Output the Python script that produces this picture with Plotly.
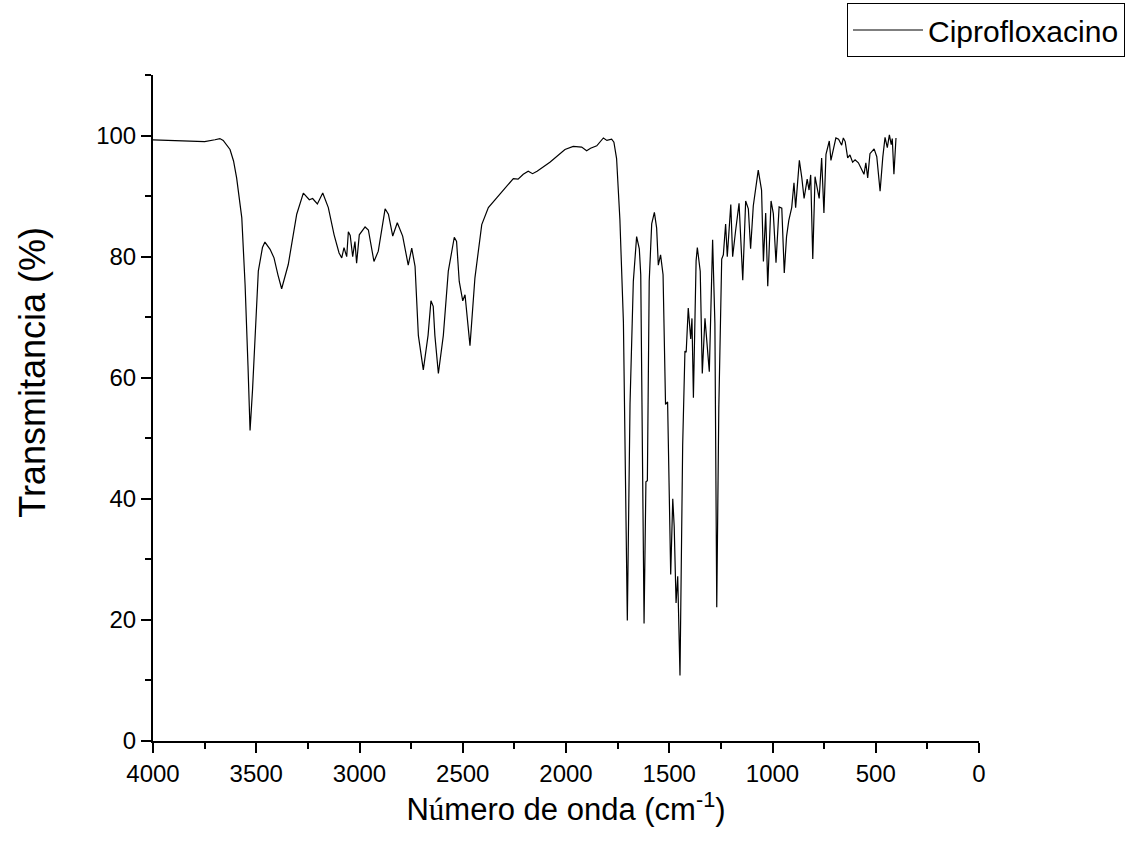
import plotly.graph_objects as go

wavenumber = [
    4000, 3900, 3800, 3750, 3700, 3676, 3660, 3645, 3627, 3610, 3595, 3570, 3554, 3540, 3530, 3518, 3506, 3490,
    3470, 3458, 3433, 3414, 3395, 3377, 3345, 3320, 3304, 3272, 3243, 3227, 3204, 3178,
    3151, 3123, 3099, 3086, 3075, 3062, 3054, 3045, 3033, 3022, 3014, 3001, 2973, 2957, 2930,
    2909, 2876, 2860, 2839, 2817, 2791, 2764, 2747, 2731, 2715, 2691, 2668, 2654,
    2643, 2635, 2618, 2594, 2570, 2541, 2530, 2517, 2500, 2489, 2465, 2441, 2408,
    2376, 2320, 2255, 2232, 2207, 2183, 2162, 2140, 2078, 2005, 1965, 1924, 1900,
    1881, 1851, 1819, 1802, 1779, 1768, 1755, 1739, 1722, 1714, 1703, 1690, 1674,
    1658, 1645, 1638, 1630, 1622, 1613, 1606, 1597, 1585, 1572, 1561, 1553, 1542,
    1530, 1518, 1508, 1493, 1483, 1476, 1467, 1459, 1448, 1435, 1424, 1418, 1408,
    1396, 1390, 1383, 1370, 1364, 1350, 1340, 1327, 1318, 1306, 1290, 1279, 1270,
    1260, 1246, 1238, 1227, 1219, 1202, 1193, 1179, 1162, 1144, 1130, 1117, 1106,
    1093, 1069, 1053, 1044, 1033, 1023, 1007, 996, 983, 968, 955, 943, 932, 921, 907,
    896, 888, 870, 858, 847, 832, 823, 815, 805, 794, 783, 774, 762, 751, 741,
    725, 717, 706, 693, 680, 665, 657, 648, 636, 625, 612, 600, 584, 570, 557, 548, 539, 528,
    508, 495, 479, 466, 455, 444, 434, 425, 420, 412, 402,
]
transmittance = [
    99.3, 99.2, 99.1, 99.0, 99.3, 99.5, 99.2, 98.6, 97.7, 95.8, 93.0, 86.4, 75.3, 62.0, 51.3, 58.0, 67.0, 77.6,
    81.5, 82.4, 81.2, 79.8, 77.0, 74.7, 78.7, 83.5, 87.0, 90.5, 89.4, 89.6, 88.7, 90.5,
    88.1, 83.6, 80.6, 79.8, 81.5, 80.0, 84.1, 83.5, 80.0, 82.5, 78.9, 83.6, 84.9, 84.4, 79.2,
    80.9, 87.9, 87.0, 83.4, 85.6, 83.4, 78.6, 81.4, 78.4, 67.0, 61.3, 67.0, 72.7,
    71.8, 67.0, 60.7, 67.0, 77.6, 83.2, 82.5, 75.9, 72.7, 73.7, 65.3, 76.5, 85.3,
    88.1, 90.3, 92.9, 92.8, 93.6, 94.1, 93.7, 94.1, 95.6, 97.7, 98.2, 98.1, 97.5,
    97.9, 98.3, 99.6, 99.2, 99.4, 98.9, 96.2, 86.1, 69.2, 48.8, 19.9, 55.6, 75.9,
    83.3, 81.3, 77.0, 48.8, 19.4, 42.8, 43.0, 76.0, 85.4, 87.3, 84.7, 78.6, 80.3,
    77.0, 55.6, 56.0, 27.5, 40.0, 35.4, 22.8, 27.2, 10.8, 48.8, 64.4, 64.2, 71.5,
    66.4, 69.8, 56.7, 79.3, 81.5, 77.6, 60.7, 69.8, 66.0, 61.0, 82.8, 69.0, 22.1,
    55.0, 79.6, 80.3, 85.4, 80.0, 88.6, 80.0, 84.2, 88.8, 76.1, 89.2, 87.9, 81.3,
    88.4, 94.3, 91.0, 79.2, 87.2, 75.1, 89.2, 87.1, 79.0, 88.2, 88.0, 77.3, 83.3, 86.0, 88.1,
    92.2, 88.1, 95.9, 93.0, 89.6, 92.8, 91.0, 93.5, 79.6, 93.2, 91.5, 89.6, 96.3, 87.2, 96.9,
    99.1, 95.9, 97.8, 99.6, 99.4, 98.4, 99.6, 99.0, 96.3, 96.8, 95.6, 96.0, 95.5, 94.5, 93.6, 95.5, 93.0, 97.0,
    97.8, 96.5, 90.8, 96.4, 99.7, 98.0, 100.1, 98.5, 99.5, 93.6, 99.6,
]

x_ticks = [4000, 3500, 3000, 2500, 2000, 1500, 1000, 500, 0]
y_ticks = [0, 20, 40, 60, 80, 100]

FONT = "Liberation Sans, Arial, sans-serif"

fig = go.Figure()
fig.add_trace(go.Scatter(
    x=wavenumber, y=transmittance, mode="lines", name="Ciprofloxacino",
    line=dict(color="black", width=1.2),
))

axis_font = dict(family=FONT, size=24, color="black")
fig.update_layout(
    width=1127, height=847,
    margin=dict(l=153, r=148, t=75, b=105.5, autoexpand=False),
    plot_bgcolor="white", paper_bgcolor="white",
    showlegend=True,
    legend=dict(
        xref="container", yref="container",
        x=1125 / 1127, y=1 - 3 / 847, xanchor="right", yanchor="top",
        bordercolor="black", borderwidth=1, bgcolor="white",
        font=dict(family=FONT, size=30, color="black"),
        itemwidth=70, tracegroupgap=0,
    ),
    xaxis=dict(
        range=[4000, 0], tickvals=x_ticks, ticktext=[str(v) for v in x_ticks],
        showline=True, linecolor="black", linewidth=2, mirror=False,
        ticks="outside", ticklen=10, tickwidth=2, tickcolor="black",
        minor=dict(dtick=250, ticks="outside", ticklen=6, tickwidth=2, tickcolor="black", showgrid=False),
        showgrid=False, zeroline=False, tickfont=axis_font, automargin=False,
        title=dict(text="N<span style=\"font-family:'Liberation Serif'\">ú</span>mero de onda (cm<sup>-1</sup>)",
                   font=dict(family=FONT, size=31, color="black"), standoff=4),
    ),
    yaxis=dict(
        range=[0, 110], tickvals=y_ticks, ticktext=[str(v) for v in y_ticks],
        showline=True, linecolor="black", linewidth=2, mirror=False,
        ticks="outside", ticklen=10, tickwidth=2, tickcolor="black",
        minor=dict(dtick=10, ticks="outside", ticklen=6, tickwidth=2, tickcolor="black", showgrid=False),
        showgrid=False, zeroline=False, tickfont=axis_font, automargin=False,
    ),
    annotations=[dict(
        text="Transmitancia (%)", textangle=-90,
        xref="paper", yref="paper",
        x=(33 - 153) / 826, y=(741.5 - 373) / 666.5,
        xanchor="center", yanchor="middle", showarrow=False,
        font=dict(family=FONT, size=36, color="black"),
    )],
)

fig.write_html("out.html", config={"displayModeBar": False},
               post_script="document.body.style.margin='0px';")
